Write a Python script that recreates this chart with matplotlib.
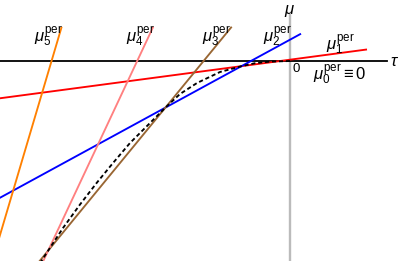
import matplotlib
matplotlib.use("Agg")
import matplotlib.pyplot as plt
import numpy as np

plt.rcParams['font.family'] = ['Liberation Sans', 'DejaVu Sans']
plt.rcParams['mathtext.fontset'] = 'custom'
plt.rcParams['mathtext.rm'] = 'Liberation Sans'
plt.rcParams['mathtext.it'] = 'Liberation Sans:italic'

# lines mu_n^per(tau) = intercept + slope * tau, drawn up to tau_end
line_names = ['1', '2', '3', '4', '5']
line_slopes = [0.133, 0.545, 1.22, 2.13, 3.376]
line_intercepts = [0.013, 0.213, 1.054, 3.255, 8.05]
line_tau_end = [0.77, 0.11, -0.583, -1.367, -2.283]
line_colors = ['#ff0000', '#0000ff', '#996633', '#ff8080', '#ff8000']

# dashed curve
curve_tau = [0, -0.2, -0.35, -0.485, -0.7, -0.93, -1.1, -1.246, -1.43, -1.6,
             -1.77, -1.93, -2.1, -2.27, -2.419, -2.55]
curve_mu = [0, -0.006, -0.022, -0.052, -0.11, -0.22, -0.33, -0.466, -0.65, -0.82,
            -1.02, -1.215, -1.435, -1.67, -1.897, -2.1]

fig = plt.figure(figsize=(3.99, 2.61), dpi=100)
ax = fig.add_axes([0, 0, 1, 1])
ax.set_xlim(-2.90, 1.09)
ax.set_ylim(-2.00, 0.61)
ax.axis('off')

# axes
ax.plot([0, 0], [-2.1, 0.46], color='#bbbbbb', lw=1.7, zorder=1)
ax.plot([-3.0, 0.97], [0, 0], color='black', lw=1.3, zorder=2)

for s, b, te, c in zip(line_slopes, line_intercepts, line_tau_end, line_colors):
    t = np.array([-3.2, te])
    ax.plot(t, b + s * t, color=c, lw=1.35, zorder=3, solid_capstyle='butt')

ax.plot(curve_tau, curve_mu, color='black', lw=1.35, ls=(0, (2.2, 1.5)), zorder=4)

# labels
lab_pos = {'5': (-2.42, 0.25), '4': (-1.50, 0.25), '3': (-0.74, 0.25),
           '2': (-0.13, 0.25), '1': (0.50, 0.17)}
for n in line_names:
    x, y = lab_pos[n]
    ax.text(x, y, r'$\mu_{%s}^{\mathrm{per}}$' % n, fontsize=12, ha='center', va='center')
ax.text(0.50, -0.13, r'$\mu_{0}^{\mathrm{per}}\equiv 0$', fontsize=12, ha='center', va='center')
ax.text(0.06, -0.08, '0', fontsize=9.5, ha='center', va='center')
ax.text(1.05, 0.0, r'$\tau$', fontsize=12, ha='center', va='center')
ax.text(0.0, 0.50, r'$\mu$', fontsize=12, ha='center', va='center')

fig.savefig('out.png', dpi=100)
